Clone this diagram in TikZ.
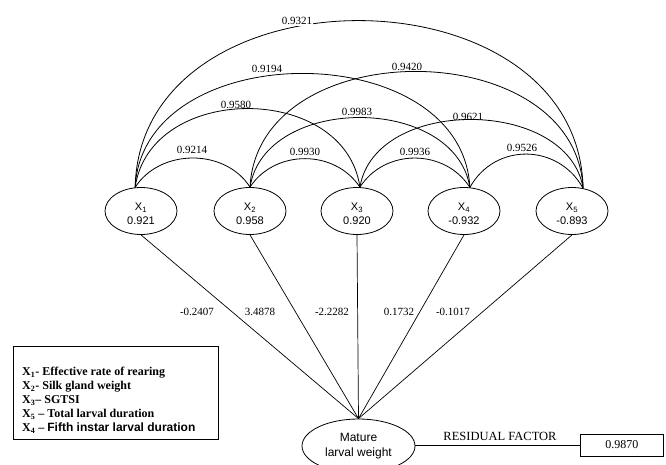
\documentclass[tikz,border=0pt]{standalone}
\usepackage{fontspec}
\setmainfont{Liberation Serif}
\newfontfamily\arialf{Liberation Sans}
\usetikzlibrary{shapes.geometric}
\begin{document}
\begin{tikzpicture}[x=1pt,y=-1pt,
  var/.style={draw, ellipse, line width=0.8pt, minimum width=72pt, minimum height=47pt, inner sep=0pt},
  vartext/.style={inner sep=0pt, align=center, font=\arialf\fontsize{11}{13.5}\selectfont},
  corr/.style={line width=0.8pt},
  path/.style={line width=0.7pt},
  lab/.style={inner sep=1pt, font=\fontsize{11}{12}\selectfont},
]
\clip (0,0) rectangle (666,465);
\fill[white] (0,0) rectangle (666,465);

% variable nodes
\node[var] (x1) at (141,211) {};
\node[var] (x2) at (250,211) {};
\node[var] (x3) at (357,211) {};
\node[var] (x4) at (464,211) {};
\node[var] (x5) at (572,211) {};
\node[vartext] (x1t) at ([yshift=-3pt]x1.center) {X\textsubscript{1}\\0.921};
\node[vartext] (x2t) at ([yshift=-3pt]x2.center) {X\textsubscript{2}\\0.958};
\node[vartext] (x3t) at ([yshift=-3pt]x3.center) {X\textsubscript{3}\\0.920};
\node[vartext] (x4t) at ([yshift=-3pt]x4.center) {X\textsubscript{4}\\-0.932};
\node[vartext] (x5t) at ([yshift=-3pt]x5.center) {X\textsubscript{5}\\-0.893};

% correlation arcs
\draw[corr] (x1.104) .. controls +(25,-39) and +(-25,-39) .. (x2.north);
\draw[corr] (x2.north) .. controls +(25,-38) and +(-25,-38) .. (x3.83);
\draw[corr] (x3.83) .. controls +(25,-39) and +(-25,-39) .. (x4.76);
\draw[corr] (x4.76) .. controls +(25,-45) and +(-25,-45) .. (x5.64);

\draw[corr] (x1.104) .. controls +(15,-105) and +(-15,-105) .. (x3.83);
\draw[corr] (x2.north) .. controls +(15,-93) and +(-15,-93) .. (x4.76);
\draw[corr] (x3.83) .. controls +(15,-91) and +(-15,-91) .. (x5.64);

\draw[corr] (x1.104) .. controls +(8,-152) and +(-8,-152) .. (x4.76);
\draw[corr] (x2.north) .. controls +(8,-155) and +(-8,-155) .. (x5.64);

\draw[corr] (x1.104) .. controls +(5,-223) and +(-5,-223) .. (x5.64);

% arc labels
\node[lab, fill=white] (c15) at (297,21) {0.9321};
\node[lab] (c14) at (267,69) {0.9194};
\node[lab] (c25) at (407,67) {0.9420};
\node[lab] (c13) at (236,105) {0.9580};
\node[lab] (c24) at (357,112) {0.9983};
\node[lab] (c35) at (468,117) {0.9621};
\node[lab] (c12) at (192,150) {0.9214};
\node[lab] (c23) at (305,152) {0.9930};
\node[lab] (c34) at (415,152) {0.9936};
\node[lab] (c45) at (522,148) {0.9526};

% dependent variable
\node[draw, ellipse, line width=0.8pt, minimum width=113pt, minimum height=54pt, inner sep=0pt,
  align=center, font=\arialf\fontsize{12}{14.5}\selectfont] (y) at (358.5,446) {Mature\\larval weight};

% path lines
\draw[path] (x1.south) -- (y.north);
\draw[path] (x2.south) -- (y.north);
\draw[path] (x3.south) -- (y.north);
\draw[path] (x4.south) -- (y.north);
\draw[path] (x5.south) -- (y.north);

% path labels
\node[lab] (p1) at (197,312) {-0.2407};
\node[lab] (p2) at (260,312) {3.4878};
\node[lab] (p3) at (332,312) {-2.2282};
\node[lab] (p4) at (399,312) {0.1732};
\node[lab] (p5) at (453,312) {-0.1017};

% residual
\node[draw, line width=0.8pt, anchor=west, minimum width=83pt, minimum height=22pt, inner sep=0pt,
  font=\fontsize{12}{14}\selectfont] (res) at (580,445) {0.9870};
\draw[path] (y.east |- res.west) -- (res.west);
\node[inner sep=0pt, font=\fontsize{12.5}{14}\selectfont] (reslab) at (500,436) {RESIDUAL FACTOR};

% legend
\node[draw, line width=0.8pt, anchor=north west, minimum width=205pt, minimum height=93pt, inner sep=0pt] (legend) at (13,346) {};
\node[anchor=west, inner sep=0pt, align=left, font=\bfseries\fontsize{12}{14}\selectfont] (legtext) at (22,400)
 {X\textsubscript{1}- Effective rate of rearing\\
  X\textsubscript{2}- Silk gland weight\\
  X\textsubscript{3}– SGTSI\\
  X\textsubscript{5} – Total larval duration\\
  X\textsubscript{4} – {\arialf\bfseries Fifth instar larval duration}};
\end{tikzpicture}
\end{document}
